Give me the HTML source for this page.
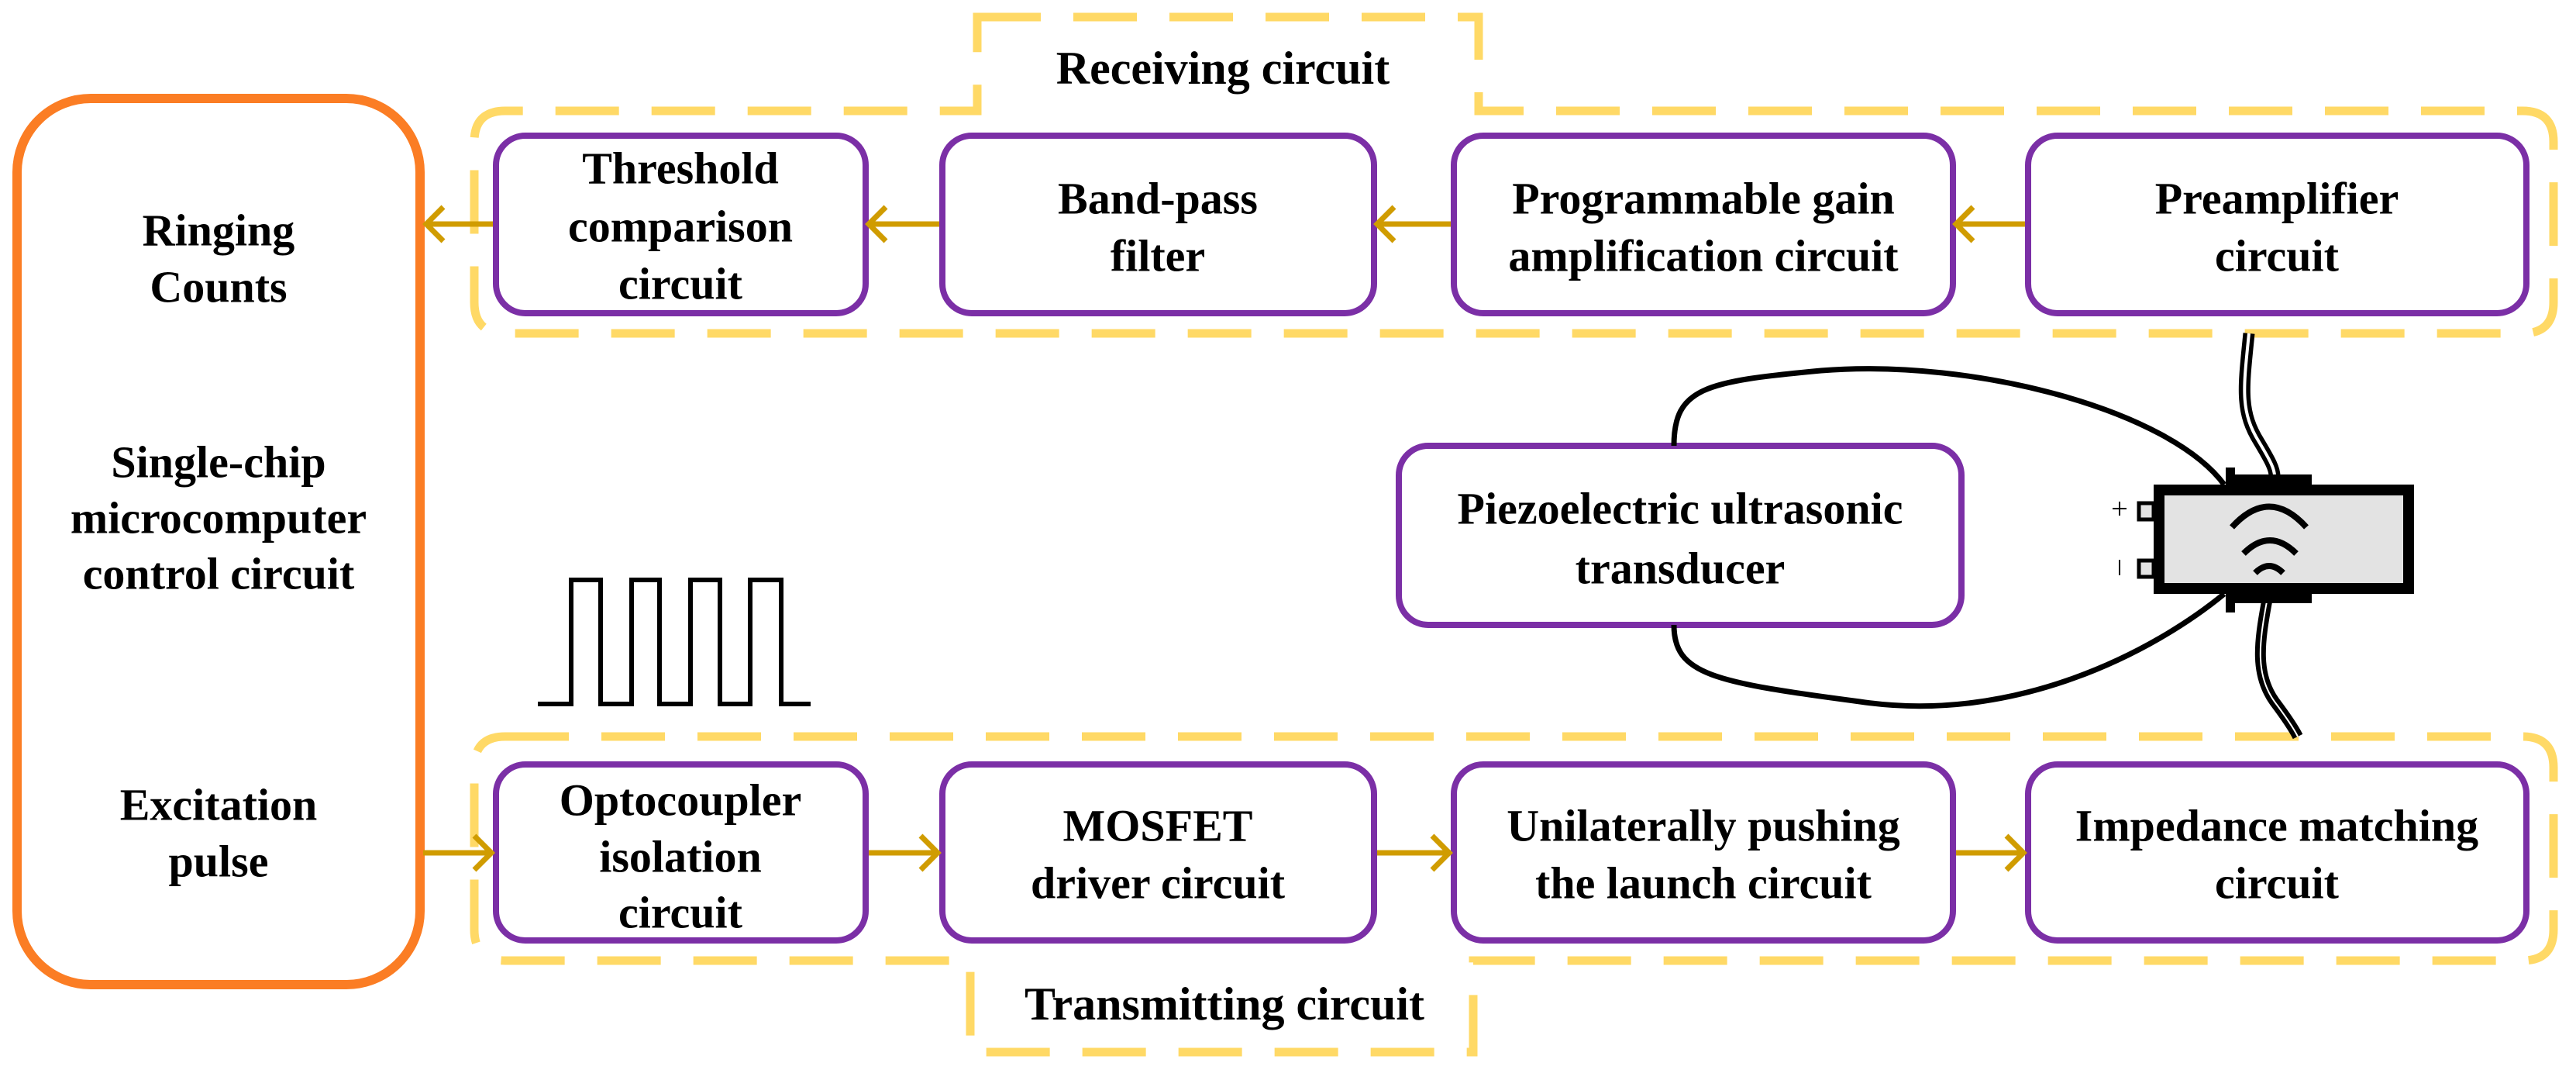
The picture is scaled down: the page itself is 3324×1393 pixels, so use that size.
<!DOCTYPE html>
<html><head><meta charset="utf-8"><style>
html,body{margin:0;padding:0;background:#fff;}
svg{display:block;}
text{font-family:"Liberation Serif","Times New Roman",Times,serif;font-weight:bold;font-size:58px;fill:#000;text-anchor:middle;dominant-baseline:central;}
</style></head><body>
<svg width="3324" height="1393" viewBox="0 0 3324 1393" xmlns="http://www.w3.org/2000/svg">
<g fill="none" stroke="#ffd966" stroke-width="11" stroke-dasharray="82 42">
<path d="M1261,22 L1908,22 L1908,143 L3255,143 Q3295,143 3295,183 L3295,390 Q3295,430 3255,430 L652,430 Q612,430 612,390 L612,183 Q612,143 652,143 L1261,143 Z"/>
<path d="M652,950 L3255,950 Q3295,950 3295,990 L3295,1199 Q3295,1239 3255,1239 L1901,1239 L1901,1357 L1252,1357 L1252,1239 L652,1239 Q612,1239 612,1199 L612,990 Q612,950 652,950 Z"/>
</g>
<rect x="22" y="127" width="520" height="1143" rx="95" fill="none" stroke="#fb7d24" stroke-width="12"/>
<g fill="#fff" stroke="#7b2fa6" stroke-width="8">
<rect x="640" y="175" width="477" height="229" rx="38"/>
<rect x="1216" y="175" width="557" height="229" rx="38"/>
<rect x="1876" y="175" width="644" height="229" rx="38"/>
<rect x="2617" y="175" width="643" height="229" rx="38"/>
<rect x="640" y="986" width="477" height="227" rx="38"/>
<rect x="1216" y="986" width="557" height="227" rx="38"/>
<rect x="1876" y="986" width="644" height="227" rx="38"/>
<rect x="2617" y="986" width="643" height="227" rx="38"/>
<rect x="1805" y="575" width="726" height="231" rx="38"/>
</g>
<g fill="none" stroke="#d09c00" stroke-width="7">
<path d="M636,289 L552,289 M572,267 L550,289 L572,311"/>
<path d="M1212,289 L1123,289 M1143,267 L1121,289 L1143,311"/>
<path d="M1872,289 L1779,289 M1799,267 L1777,289 L1799,311"/>
<path d="M2613,289 L2526,289 M2546,267 L2524,289 L2546,311"/>
<path d="M546,1100 L632,1100 M612,1078 L634,1100 L612,1122"/>
<path d="M1121,1100 L1208,1100 M1188,1078 L1210,1100 L1188,1122"/>
<path d="M1777,1100 L1868,1100 M1848,1078 L1870,1100 L1848,1122"/>
<path d="M2524,1100 L2609,1100 M2589,1078 L2611,1100 L2589,1122"/>
</g>
<path d="M694,908 L737,908 L737,748 L775,748 L775,908 L815,908 L815,748 L851,748 L851,908 L891,908 L891,748 L929,748 L929,908 L968,908 L968,748 L1008,748 L1008,908 L1046,908" fill="none" stroke="#000" stroke-width="6"/>
<g fill="none" stroke="#000" stroke-width="7">
<path d="M2160,575 C2160,500 2200,492 2350,478 C2550,462 2800,530 2870,625"/>
<path d="M2160,806 C2160,870 2210,880 2400,905 C2600,935 2780,840 2870,766"/>
</g>
<g fill="none">
<path d="M2902,430 C2895,500 2890,530 2915,570 C2930,595 2935,605 2935,614" stroke="#000" stroke-width="15"/>
<path d="M2902,430 C2895,500 2890,530 2915,570 C2930,595 2935,605 2935,614" stroke="#fff" stroke-width="4"/>
<path d="M2925,776 C2915,830 2910,870 2935,905 C2950,925 2960,940 2965,950" stroke="#000" stroke-width="14"/>
<path d="M2925,776 C2915,830 2910,870 2935,905 C2950,925 2960,940 2965,950" stroke="#fff" stroke-width="2"/>
</g>
<rect x="2872" y="612" width="111" height="16" fill="#000"/>
<rect x="2872" y="603" width="12" height="14" fill="#000"/>
<rect x="2872" y="762" width="111" height="16" fill="#000"/>
<rect x="2872" y="770" width="12" height="20" fill="#000"/>
<rect x="2786" y="632" width="322" height="127" fill="#e3e3e3" stroke="#000" stroke-width="14"/>
<rect x="2760" y="649" width="19" height="21" fill="#e3e3e3" stroke="#000" stroke-width="5"/>
<rect x="2760" y="723" width="19" height="21" fill="#e3e3e3" stroke="#000" stroke-width="5"/>
<path d="M2726,656 L2744,656 M2735,647 L2735,665 M2735,722 L2735,742" stroke="#000" stroke-width="2" fill="none"/>
<g fill="none" stroke="#000" stroke-width="8">
<path d="M2880,680 Q2928,627 2976,680"/>
<path d="M2895,714 Q2929,680 2963,714"/>
<path d="M2910,739 Q2928,721 2946,739"/>
</g>
<g font-family="Liberation Serif, Times New Roman, serif" font-weight="bold">
<text x="282" y="297">Ringing</text>
<text x="282" y="370">Counts</text>
<text x="282" y="596">Single-chip</text>
<text x="282" y="668">microcomputer</text>
<text x="282" y="740">control circuit</text>
<text x="282" y="1038">Excitation</text>
<text x="282" y="1111">pulse</text>
<text x="1578" y="88" style="font-size:60px">Receiving circuit</text>
<text x="1580" y="1295" style="font-size:60px">Transmitting circuit</text>
<text x="878" y="217">Threshold</text>
<text x="878" y="292">comparison</text>
<text x="878" y="366">circuit</text>
<text x="1494" y="256">Band-pass</text>
<text x="1494" y="330">filter</text>
<text x="2198" y="256">Programmable gain</text>
<text x="2198" y="330">amplification circuit</text>
<text x="2938" y="256">Preamplifier</text>
<text x="2938" y="330">circuit</text>
<text x="878" y="1032">Optocoupler</text>
<text x="878" y="1105">isolation</text>
<text x="878" y="1177">circuit</text>
<text x="1494" y="1065">MOSFET</text>
<text x="1494" y="1139">driver circuit</text>
<text x="2198" y="1065">Unilaterally pushing</text>
<text x="2198" y="1139">the launch circuit</text>
<text x="2938" y="1065">Impedance matching</text>
<text x="2938" y="1139">circuit</text>
<text x="2168" y="656">Piezoelectric ultrasonic</text>
<text x="2168" y="733">transducer</text>
</g>
</svg>
</body></html>
